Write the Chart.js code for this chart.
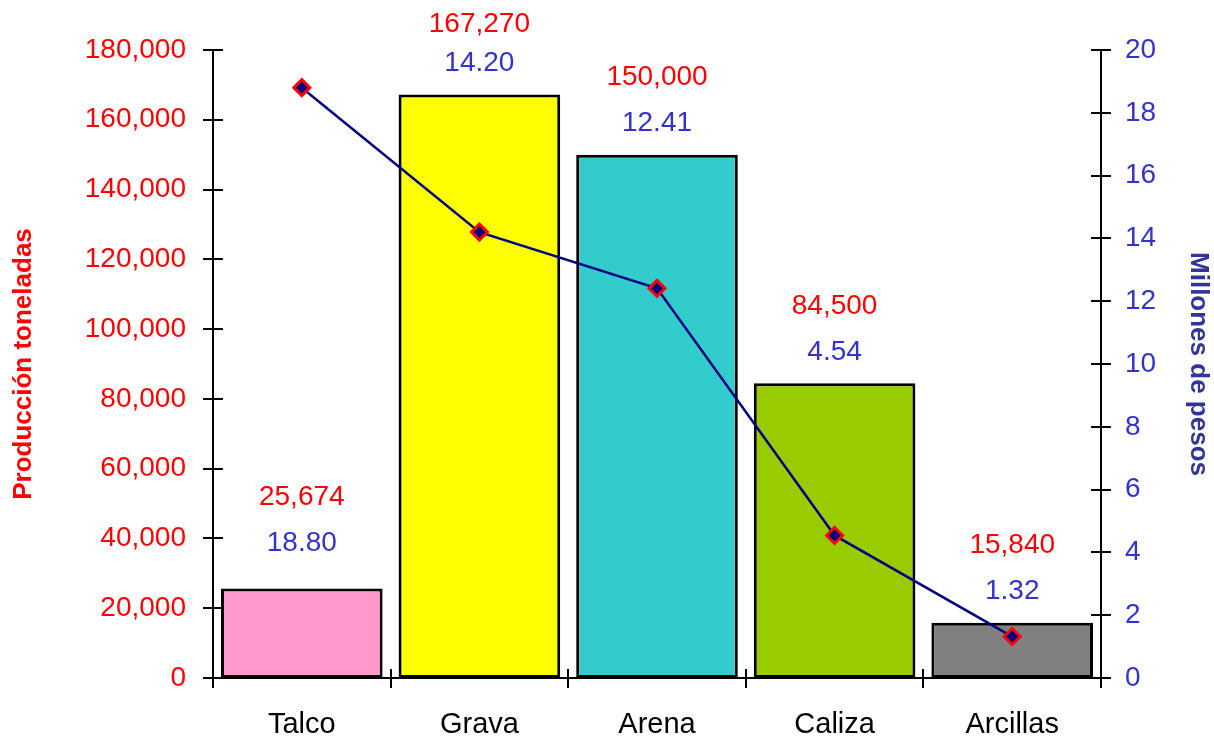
<!DOCTYPE html>
<html>
<head>
<meta charset="utf-8">
<script src="https://cdn.jsdelivr.net/npm/chart.js@4"></script>
<style>
  html, body { margin: 0; padding: 0; background: #fff; }
  #wrap { width: 1214px; height: 737px; }
</style>
</head>
<body>
<div id="wrap"><canvas id="chart" width="1214" height="737"></canvas></div>
<script>
var categories = ['Talco', 'Grava', 'Arena', 'Caliza', 'Arcillas'];
var produccion = [25674, 167270, 150000, 84500, 15840];
var millones = [18.80, 14.20, 12.41, 4.54, 1.32];
var barColors = ['#FF99CC', '#FFFF00', '#33CCCC', '#99CC00', '#808080'];

var RED = '#FF0000';
var BLUE = '#3333CC';
var NAVY = '#000080';
var FONT = '"Liberation Sans", Arial, sans-serif';

// cross-shaped tick marks on the three axes
var crossTicks = {
    id: 'crossTicks',
    afterDraw: function(chart) {
        var ctx = chart.ctx;
        var area = chart.chartArea;
        ctx.save();
        ctx.strokeStyle = '#000';
        ctx.lineWidth = 2;
        ctx.beginPath();
        chart.scales.y.ticks.forEach(function(t) {
            var py = Math.round(chart.scales.y.getPixelForValue(t.value));
            ctx.moveTo(area.left - 10, py);
            ctx.lineTo(area.left + 10, py);
        });
        chart.scales.y1.ticks.forEach(function(t) {
            var py = Math.round(chart.scales.y1.getPixelForValue(t.value));
            ctx.moveTo(area.right - 10, py);
            ctx.lineTo(area.right + 10, py);
        });
        var x = chart.scales.x;
        var step = x.getPixelForTick(1) - x.getPixelForTick(0);
        for (var i = 0; i <= categories.length; i++) {
            var px = Math.round(x.getPixelForTick(0) + (i - 0.5) * step);
            ctx.moveTo(px, area.bottom - 9);
            ctx.lineTo(px, area.bottom + 10);
        }
        ctx.stroke();
        ctx.restore();
    }
};

// value labels above each bar: tonnes (red) and pesos (blue)
var valueLabels = {
    id: 'valueLabels',
    afterDatasetsDraw: function(chart) {
        var ctx = chart.ctx;
        var bars = chart.getDatasetMeta(0).data;
        ctx.save();
        ctx.font = '28px ' + FONT;
        ctx.textAlign = 'center';
        ctx.textBaseline = 'middle';
        bars.forEach(function(bar, i) {
            var extra = i === 0 ? 14 : 0;
            var blueY = bar.y - 31 - extra;
            var redY = Math.max(24, blueY - 46);
            ctx.fillStyle = BLUE;
            ctx.fillText(millones[i].toFixed(2), bar.x, blueY);
            ctx.fillStyle = RED;
            ctx.fillText(produccion[i].toLocaleString('en-US'), bar.x, redY);
        });
        ctx.restore();
    }
};

var ctx = document.getElementById('chart').getContext('2d');
var chart = new Chart(ctx, {
    type: 'bar',
    data: {
        labels: categories,
        datasets: [{
            type: 'bar',
            label: 'Producción toneladas',
            data: produccion,
            backgroundColor: barColors,
            borderColor: '#000',
            borderWidth: 3,
            borderSkipped: false,
            barPercentage: 0.91,
            categoryPercentage: 1,
            yAxisID: 'y',
            order: 2
        }, {
            type: 'line',
            label: 'Millones de pesos',
            data: millones,
            borderColor: NAVY,
            borderWidth: 2.5,
            pointStyle: 'rectRot',
            pointRadius: 8,
            pointBackgroundColor: NAVY,
            pointBorderColor: RED,
            pointBorderWidth: 3,
            yAxisID: 'y1',
            order: 1
        }]
    },
    options: {
        responsive: false,
        animation: false,
        layout: { padding: { top: 50, left: 0, right: 0, bottom: 0 } },
        plugins: {
            legend: { display: false },
            tooltip: { enabled: false }
        },
        scales: {
            x: {
                offset: true,
                grid: { display: false, offset: true },
                border: { display: true, color: '#000', width: 2 },
                ticks: { color: '#000', font: { family: FONT, size: 29 }, padding: 22 },
                afterFit: function(s) { s.height = 59; }
            },
            y: {
                position: 'left',
                min: 0,
                max: 180000,
                ticks: {
                    stepSize: 20000,
                    color: RED,
                    font: { family: FONT, size: 28 },
                    padding: 19,
                    callback: function(v) { return v.toLocaleString('en-US'); }
                },
                grid: { display: false },
                border: { display: true, color: '#000', width: 2 },
                title: {
                    display: true,
                    text: 'Producción toneladas',
                    color: RED,
                    font: { family: FONT, size: 26, weight: 'bold' },
                    padding: { top: 8, bottom: 0 }
                },
                afterFit: function(s) { s.width = 213; }
            },
            y1: {
                position: 'right',
                min: 0,
                max: 20,
                ticks: {
                    stepSize: 2,
                    color: BLUE,
                    font: { family: FONT, size: 28 },
                    padding: 16
                },
                grid: { display: false },
                border: { display: true, color: '#000', width: 2 },
                title: {
                    display: true,
                    text: 'Millones de pesos',
                    color: '#333399',
                    font: { family: FONT, size: 26, weight: 'bold' },
                    padding: { top: 0, bottom: 0 }
                },
                afterFit: function(s) { s.width = 113; }
            }
        }
    },
    plugins: [crossTicks, valueLabels]
});
</script>
</body>
</html>
